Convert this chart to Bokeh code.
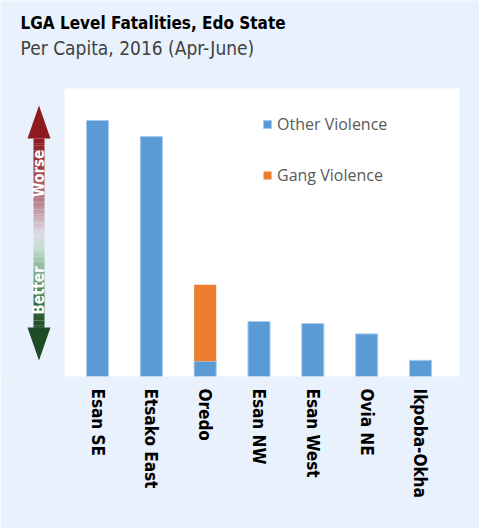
import math
from bokeh.plotting import figure
from bokeh.models import ColumnDataSource, FixedTicker, Legend, LegendItem
from bokeh.core.properties import value
from bokeh.embed import file_html
from bokeh.resources import INLINE

# ---- data ----
categories = ["Esan SE", "Etsako East", "Oredo", "Esan NW", "Esan West", "Ovia NE", "Ikpoba-Okha"]
other_violence = [8.89, 8.33, 0.53, 1.91, 1.84, 1.48, 0.56]
gang_violence = [0.0, 0.0, 2.66, 0.0, 0.0, 0.0, 0.0]
title_text = "LGA Level Fatalities, Edo State"
subtitle_text = "Per Capita, 2016 (Apr-June)"

BG = "#e9f2fc"
BLUE = "#5b9bd5"
ORANGE = "#ed7d31"
FONT = "DejaVu Sans Condensed"

xs = list(range(len(categories)))
src = ColumnDataSource(dict(x=xs, other=other_violence, gang=gang_violence))

p = figure(width=479, height=528, output_backend="svg", toolbar_location=None,
           x_range=(-1.802, 7.096), y_range=(0, 13.056),
           min_border_left=0, min_border_right=0, min_border_top=0,
           min_border_bottom=152, title_location=None)
p.background_fill_color = BG
p.border_fill_color = BG
p.outline_line_color = None
p.grid.visible = False
p.yaxis.visible = False

# titles
p.text(x=[-1.430], y=[12.26], text=[title_text], text_font=value(FONT),
       text_font_size="17px", text_font_style="bold", text_color="#000000",
       text_baseline="alphabetic", text_align="left")
p.text(x=[-1.430], y=[11.39], text=[subtitle_text], text_font=value(FONT),
       text_font_size="19px", text_font_style="normal", text_color="#404040",
       text_baseline="alphabetic", text_align="left")

# white plot area
p.quad(left=-0.613, right=6.725, bottom=0, top=10.0, fill_color="white",
       line_color=None)

# stacked bars
rs = p.vbar_stack(["other", "gang"], x="x", width=0.41, source=src,
                  color=[BLUE, ORANGE], line_color=["#a9cbee", None],
                  line_width=1)

# gradient arrow (decoration)
def lerp(c1, c2, t):
    a = [int(c1[i:i+2], 16) for i in (1, 3, 5)]
    b = [int(c2[i:i+2], 16) for i in (1, 3, 5)]
    return "#%02x%02x%02x" % tuple(round(a[k] + (b[k] - a[k]) * t) for k in range(3))

stops = [(0.0, "#8c1a1e"), (0.25, "#a9555f"), (0.5, "#dcd8e2"),
         (0.58, "#c6ddd0"), (0.8, "#4f8a5c"), (1.0, "#1e4a25")]
def grad(t):
    for (t0, c0), (t1, c1) in zip(stops[:-1], stops[1:]):
        if t <= t1:
            return lerp(c0, c1, (t - t0) / (t1 - t0))
    return stops[-1][1]

ax = -1.087
y_top, y_hb, y_lb, y_bot = 9.41, 8.26, 1.70, 0.556
n = 80
bots, tops, cols = [], [], []
for i in range(n):
    t = i / n
    yt = y_hb - (y_hb - y_lb) * t
    yb = y_hb - (y_hb - y_lb) * (i + 1) / n - 0.005
    bots.append(yb); tops.append(yt); cols.append(grad(t + 0.5 / n))
p.quad(left=ax - 0.102, right=ax + 0.102, bottom=bots, top=tops,
       fill_color=cols, line_color=None)
p.patch([ax - 0.2136, ax, ax + 0.2136], [y_hb, y_top, y_hb],
        fill_color="#8c1a1e", line_color=None)
p.patch([ax - 0.2136, ax, ax + 0.2136], [y_lb, y_bot, y_lb],
        fill_color="#1e4a25", line_color=None)
p.text(x=[ax, ax], y=[7.05, 2.99], text=["Worse", "Better"], angle=math.pi / 2,
       text_font=value(FONT), text_font_size="15px", text_font_style="bold",
       text_color="white", text_align="center", text_baseline="middle")

# legend
legend = Legend(items=[LegendItem(label="Other Violence", renderers=[rs[0]]),
                       LegendItem(label="Gang Violence", renderers=[rs[1]])],
                location=(262, 190), orientation="vertical")
legend.background_fill_alpha = 0
legend.border_line_color = None
legend.label_text_font = "Open Sans"
legend.label_text_font_size = "16px"
legend.label_text_color = "#595959"
legend.glyph_width = 10
legend.glyph_height = 10
legend.label_standoff = 5
legend.label_height = 20
legend.spacing = 29
legend.padding = 0
legend.margin = 0
p.add_layout(legend, "center")

# x axis
xa = p.xaxis[0]
xa.ticker = FixedTicker(ticks=xs)
xa.major_label_overrides = {i: c for i, c in enumerate(categories)}
xa.major_label_orientation = -math.pi / 2
xa.major_label_text_font = FONT
xa.major_label_text_font_size = "17px"
xa.major_label_text_font_style = "bold"
xa.major_label_text_color = "#000000"
xa.major_label_standoff = 6
xa.axis_line_color = None
xa.major_tick_line_color = None
xa.minor_tick_line_color = None

open("out.html", "w").write(file_html(p, INLINE))
